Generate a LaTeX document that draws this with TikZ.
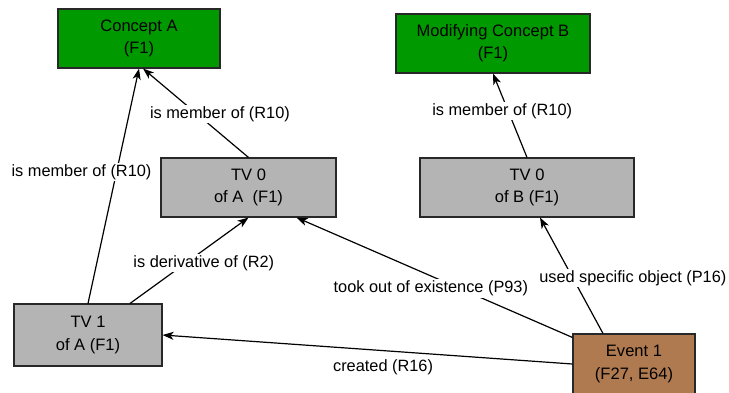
\documentclass[tikz,border=0pt]{standalone}
\usepackage{fontspec}
\setmainfont{Liberation Sans}
\usetikzlibrary{arrows.meta}
\definecolor{cgreen}{RGB}{0,153,0}
\definecolor{cgray}{RGB}{180,180,180}
\definecolor{cbrown}{RGB}{176,122,80}
\definecolor{cborder}{RGB}{40,40,40}
\tikzset{
  box/.style={draw=cborder, line width=1.1bp, inner sep=0pt, align=center, font=\fontsize{16.6}{22.5}\selectfont},
  concept/.style={box, fill=cgreen},
  tvbox/.style={box, fill=cgray},
  eventbox/.style={box, fill=cbrown},
  rel/.style={line width=1.2bp, draw=black, -{Stealth[length=11bp, width=8bp, inset=3bp]}},
  lbl/.style={fill=white, inner sep=1.5bp, font=\fontsize{16.4}{20}\selectfont},
}
\begin{document}
\begin{tikzpicture}[x=1bp, y=-1bp]
\useasboundingbox (0,0) rectangle (729,392);
\clip (0,0) rectangle (729,392);
\node[concept, minimum width=162bp, minimum height=59bp] (ca) at (139,38.5) {Concept A\\(F1)};
\node[concept, minimum width=194bp, minimum height=59bp] (mb) at (493,43.5) {Modifying Concept B\\(F1)};
\node[tvbox, minimum width=175bp, minimum height=59bp] (tva) at (248.5,187.5) {TV 0\\of A~ (F1)};
\node[tvbox, minimum width=214bp, minimum height=59bp] (tvb) at (527,187.5) {TV 0\\of B (F1)};
\node[tvbox, minimum width=148bp, minimum height=62bp] (tv1) at (88,335) {TV 1\\of A (F1)};
\node[eventbox, minimum width=122bp, minimum height=60bp] (ev) at (634,364) {Event 1\\(F27, E64)};

\draw[rel] (tv1.north) -- node[lbl, pos=0.559, xshift=-35bp] (l1) {is member of (R10)} (ca.south);
\draw[rel] (tva.north) -- node[lbl, pos=0.489, xshift=23bp] (l2) {is member of (R10)} ([xshift=4bp]ca.south);
\draw[rel] ([xshift=42bp]tv1.north) -- node[lbl, pos=0.471, xshift=18bp] (l3) {is derivative of (R2)} (tva.south);
\draw[rel] ([yshift=-4bp]ev.north west) -- node[lbl, pos=0.408, xshift=-29bp] (l4) {took out of existence (P93)} ([xshift=48bp]tva.south);
\draw[rel] (ev.west) -- node[lbl, pos=0.462, yshift=-17bp] (l5) {created (R16)} (tv1.east);
\draw[rel] ([xshift=-31bp]ev.north) -- node[lbl, pos=0.479, xshift=60bp] (l6) {used specific object (P16)} ([xshift=13bp]tvb.south);
\draw[rel] (tvb.north) -- node[lbl, pos=0.553, xshift=-6bp] (l7) {is member of (R10)} (mb.south);
\end{tikzpicture}
\end{document}
